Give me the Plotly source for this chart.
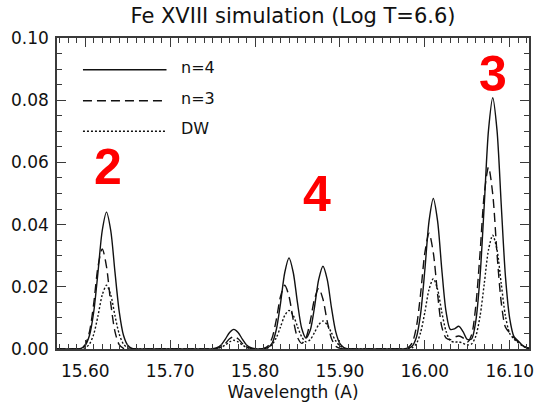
import plotly.graph_objects as go

# ---------------- data ----------------
wavelength = [
    15.565, 15.570, 15.575, 15.580, 15.585, 15.590, 15.595, 15.600, 15.605, 15.610,
    15.615, 15.620, 15.625, 15.630, 15.635, 15.640, 15.645, 15.650, 15.655, 15.660,
    15.665, 15.670, 15.675, 15.680, 15.685, 15.690, 15.695, 15.700, 15.705, 15.710,
    15.715, 15.720, 15.725, 15.730, 15.735, 15.740, 15.745, 15.750, 15.755, 15.760,
    15.765, 15.770, 15.775, 15.780, 15.785, 15.790, 15.795, 15.800, 15.805, 15.810,
    15.815, 15.820, 15.825, 15.830, 15.835, 15.840, 15.845, 15.850, 15.855, 15.860,
    15.865, 15.870, 15.875, 15.880, 15.885, 15.890, 15.895, 15.900, 15.905, 15.910,
    15.915, 15.920, 15.925, 15.930, 15.935, 15.940, 15.945, 15.950, 15.955, 15.960,
    15.965, 15.970, 15.975, 15.980, 15.985, 15.990, 15.995, 16.000, 16.005, 16.010,
    16.015, 16.020, 16.025, 16.030, 16.035, 16.040, 16.045, 16.050, 16.055, 16.060,
    16.065, 16.070, 16.075, 16.080, 16.085, 16.090, 16.095, 16.100, 16.105, 16.110,
    16.115, 16.120, 16.125,
]

flux_n4 = [
    0, 0, 0, 0, 0, 0, 0.0002, 0.0012, 0.0044, 0.0120,
    0.0247, 0.0381, 0.0440, 0.0381, 0.0247, 0.0120, 0.0044, 0.0012, 0.0002, 0,
    0, 0, 0, 0, 0, 0, 0, 0, 0, 0,
    0, 0, 0, 0, 0, 0, 0, 0.0001, 0.0004, 0.0013,
    0.0032, 0.0053, 0.0063, 0.0053, 0.0032, 0.0013, 0.0004, 0.0001, 0, 0.0001,
    0.0004, 0.0018, 0.0062, 0.0147, 0.0246, 0.0293, 0.0246, 0.0148, 0.0066, 0.0035,
    0.0060, 0.0134, 0.0224, 0.0266, 0.0224, 0.0133, 0.0056, 0.0017, 0.0004, 0.0001,
    0, 0, 0, 0, 0, 0, 0, 0, 0, 0,
    0, 0, 0, 0.0002, 0.0009, 0.0037, 0.0113, 0.0254, 0.0412, 0.0484,
    0.0412, 0.0255, 0.0120, 0.0063, 0.0065, 0.0073, 0.0056, 0.0031, 0.0032, 0.0089,
    0.0232, 0.0464, 0.0704, 0.0808, 0.0704, 0.0464, 0.0232, 0.0098, 0.0040, 0.0026,
    0.0012, 0.0004, 0.0001,
]

flux_n3 = [
    0, 0, 0, 0, 0, 0, 0.0002, 0.0014, 0.0056, 0.0147,
    0.0265, 0.0322, 0.0265, 0.0147, 0.0056, 0.0014, 0.0002, 0, 0, 0,
    0, 0, 0, 0, 0, 0, 0, 0, 0, 0,
    0, 0, 0, 0, 0, 0, 0, 0, 0.0002, 0.0007,
    0.0018, 0.0033, 0.0040, 0.0033, 0.0018, 0.0007, 0.0002, 0, 0, 0.0002,
    0.0009, 0.0035, 0.0094, 0.0169, 0.0205, 0.0169, 0.0094, 0.0037, 0.0018, 0.0036,
    0.0089, 0.0160, 0.0195, 0.0160, 0.0089, 0.0034, 0.0009, 0.0002, 0, 0,
    0, 0, 0, 0, 0, 0, 0, 0, 0, 0,
    0, 0, 0, 0.0004, 0.0019, 0.0070, 0.0177, 0.0309, 0.0372, 0.0309,
    0.0177, 0.0071, 0.0035, 0.0030, 0.0038, 0.0042, 0.0036, 0.0022, 0.0045, 0.0138,
    0.0307, 0.0498, 0.0585, 0.0498, 0.0307, 0.0150, 0.0070, 0.0052, 0.0037, 0.0022,
    0.0011, 0.0004, 0.0001,
]

flux_dw = [
    0, 0, 0, 0, 0, 0, 0.0001, 0.0004, 0.0016, 0.0048,
    0.0107, 0.0174, 0.0205, 0.0174, 0.0107, 0.0048, 0.0016, 0.0004, 0.0001, 0,
    0, 0, 0, 0, 0, 0, 0, 0, 0, 0,
    0, 0, 0, 0, 0, 0, 0, 0, 0.0001, 0.0005,
    0.0013, 0.0023, 0.0028, 0.0023, 0.0013, 0.0005, 0.0001, 0, 0, 0.0001,
    0.0004, 0.0014, 0.0036, 0.0071, 0.0108, 0.0124, 0.0108, 0.0072, 0.0039, 0.0023,
    0.0030, 0.0053, 0.0078, 0.0090, 0.0078, 0.0052, 0.0026, 0.0010, 0.0003, 0.0001,
    0, 0, 0, 0, 0, 0, 0, 0, 0, 0,
    0, 0, 0, 0.0001, 0.0004, 0.0017, 0.0053, 0.0118, 0.0192, 0.0226,
    0.0192, 0.0118, 0.0057, 0.0027, 0.0022, 0.0023, 0.0018, 0.0013, 0.0016, 0.0041,
    0.0105, 0.0210, 0.0319, 0.0366, 0.0319, 0.0210, 0.0105, 0.0050, 0.0032, 0.0020,
    0.0010, 0.0004, 0.0001,
]

series_names = ["n=4", "n=3", "DW"]
series_dash = ["solid", "9px,5px", "2px,2px"]

peak_labels = ["2", "4", "3"]
peak_label_x = [15.627, 15.873, 16.080]
peak_label_y = [0.0586, 0.0500, 0.0885]

x_range = [15.5667, 16.1227]
y_range = [0.0, 0.10]

# ---------------- figure ----------------
INK = "#111111"
FRAME = "#3a3a3a"
FONT = "DejaVu Sans"

fig = go.Figure()
for name, ys, dash in zip(series_names, [flux_n4, flux_n3, flux_dw], series_dash):
    fig.add_trace(go.Scatter(
        x=wavelength, y=ys, name=name, mode="lines",
        line=dict(color=INK, width=1.4, dash=dash, shape="spline", smoothing=0.8),
        showlegend=False,
    ))

# hand-drawn style legend (IDL style: long line samples with labels)
legend_y = [0.898, 0.798, 0.700]
for name, dash, ly in zip(series_names, series_dash, legend_y):
    fig.add_shape(type="line", xref="paper", yref="paper",
                  x0=0.055, x1=0.232, y0=ly, y1=ly,
                  line=dict(color=INK, width=1.4, dash=dash))
    fig.add_annotation(xref="paper", yref="paper", x=0.258, y=ly + 0.008,
                       text=name, showarrow=False, xanchor="left", yanchor="middle",
                       font=dict(family=FONT, size=16, color=INK))

for t, px, py in zip(peak_labels, peak_label_x, peak_label_y):
    fig.add_annotation(x=px, y=py, xref="x", yref="y", text=t, showarrow=False,
                       xanchor="center", yanchor="middle",
                       font=dict(family="Liberation Sans", size=50, color="#ff0000",
                                 weight="bold"))

axis_common = dict(
    showline=True, linecolor=FRAME, linewidth=1.5, mirror="ticks",
    ticks="inside", ticklen=9, tickwidth=1.2, tickcolor=FRAME,
    showgrid=False, zeroline=False,
    tickfont=dict(family=FONT, size=17, color=INK),
)

fig.update_xaxes(
    range=x_range, tick0=15.60, dtick=0.10, tickformat=".2f",
    minor=dict(ticks="inside", ticklen=5, tickwidth=1.0, tickcolor=FRAME, dtick=0.01, tick0=15.60),
    title=dict(text="Wavelength (A)", font=dict(family=FONT, size=17, color=INK), standoff=6),
    ticklabelstandoff=6,
    **axis_common,
)
fig.update_yaxes(
    range=y_range, tick0=0, dtick=0.02, tickformat=".2f",
    minor=dict(ticks="inside", ticklen=5, tickwidth=1.0, tickcolor=FRAME, dtick=0.005, tick0=0),
    ticklabelstandoff=3,
    **axis_common,
)

fig.update_layout(
    width=539, height=404,
    margin=dict(l=57, r=10, t=38, b=55, autoexpand=False),
    paper_bgcolor="white", plot_bgcolor="white",
    title=dict(text="Fe XVIII simulation (Log T=6.6)", x=0.5, xref="paper",
               y=1 - 16 / 404, yref="container", yanchor="middle",
               font=dict(family=FONT, size=21, color=INK)),
    font=dict(family=FONT, color=INK),
)

fig.write_html("out.html")
